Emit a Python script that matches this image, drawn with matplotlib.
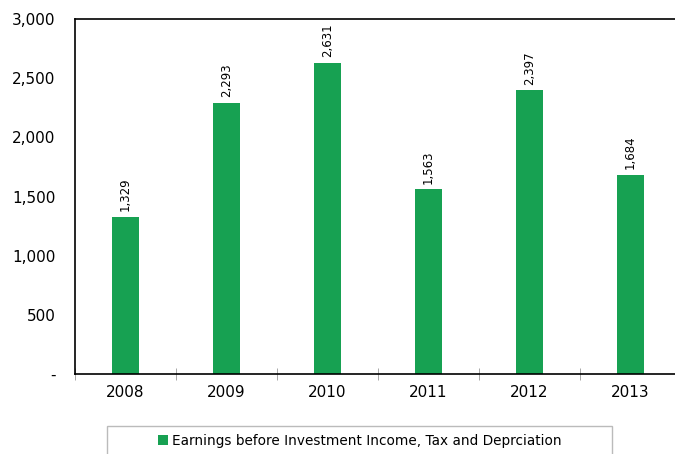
import numpy as np
import matplotlib.pyplot as plt
from matplotlib.patches import Rectangle
from matplotlib.ticker import FuncFormatter

years = ["2008", "2009", "2010", "2011", "2012", "2013"]
earnings = [1329, 2293, 2631, 1563, 2397, 1684]
series_name = "Earnings before Investment Income, Tax and Deprciation"

bar_color = "#17a152"

fig = plt.figure(figsize=(6.75, 4.54), dpi=100)
ax = fig.add_axes([0.1111, 0.1762, 0.898, 0.7819])

x = np.arange(len(years))
ax.bar(x, earnings, width=0.27, color=bar_color, label=series_name, zorder=2)

for xi, v in zip(x, earnings):
    ax.annotate(f"{v:,}", (xi, v), xytext=(0, 4), textcoords="offset points",
                rotation=90, ha="center", va="bottom", fontsize=8.5)

ax.set_xlim(-0.5, len(years) - 0.5)
ax.set_ylim(0, 3000)
ax.set_yticks(np.arange(0, 3001, 500))
ax.yaxis.set_major_formatter(FuncFormatter(lambda v, p: "-" if v == 0 else f"{int(v):,}"))
ax.tick_params(axis="y", length=0, pad=14, labelsize=11)

ax.set_xticks(x)
ax.set_xticklabels(years)
ax.set_xticks(np.arange(-0.5, len(years), 1), minor=True)
ax.tick_params(axis="x", which="major", length=0, pad=8, labelsize=11)
ax.tick_params(axis="x", which="minor", length=9, direction="inout", color="#999999")

for side in ["top", "left", "bottom"]:
    ax.spines[side].set_linewidth(1.2)
    ax.spines[side].set_color("black")
ax.spines["right"].set_visible(False)

# legend box
fig.patches.append(Rectangle((0.1585, -0.05), 0.748, 0.1117, transform=fig.transFigure,
                             fill=False, edgecolor="#bbbbbb", linewidth=1))
handles, labels = ax.get_legend_handles_labels()
fig.legend(handles, labels, loc="center", bbox_to_anchor=(0.533, 0.0286), frameon=False,
           fontsize=9.8, handlelength=0.7, handleheight=0.7, handletextpad=0.3)

fig.savefig("out.png", dpi=100)
